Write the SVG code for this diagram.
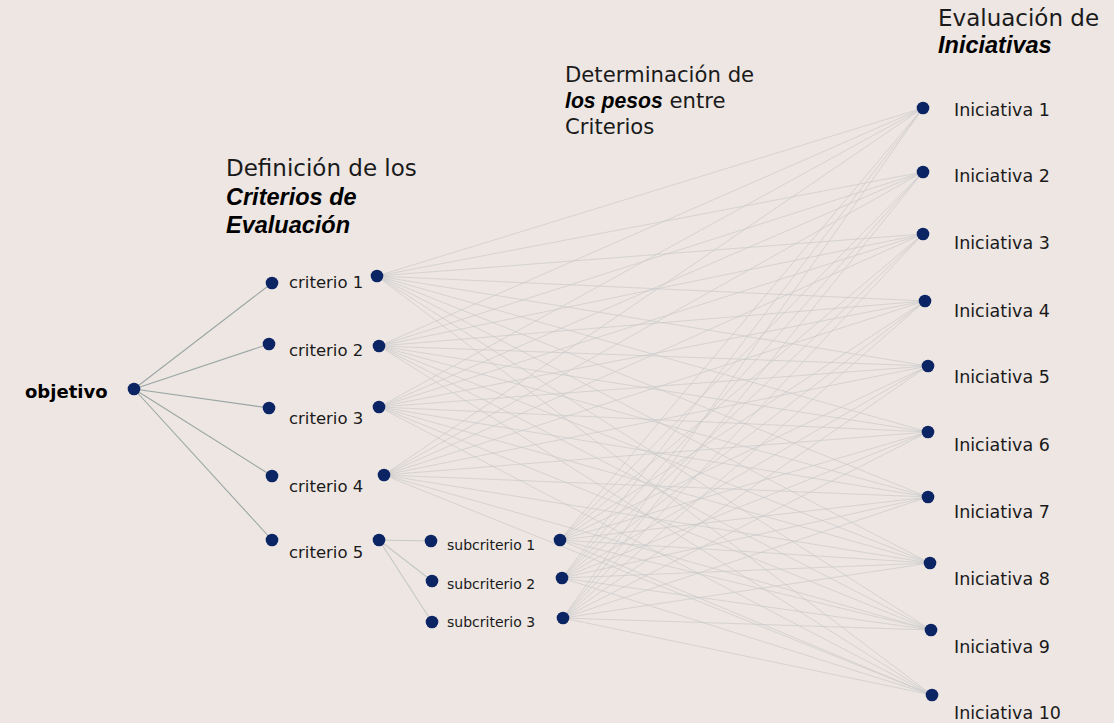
<svg xmlns="http://www.w3.org/2000/svg" width="1114" height="723" viewBox="0 0 1114 723">
<style>
.bg{fill:#ede6e3}
.dot{fill:#0b2463}
.t{font-family:"DejaVu Sans",sans-serif;fill:#1a1a1a}
.crit{font-size:16.5px}
.sub{font-size:14px}
.ini{font-size:17.5px}
.hd{font-family:"DejaVu Sans",sans-serif;fill:#1a1a1a}
.em{font-family:"Liberation Sans",Arial,sans-serif;font-weight:bold;font-style:italic;fill:#000}
.obj{font-family:"DejaVu Sans",sans-serif;font-weight:bold;font-size:18px;fill:#000}
.lo{stroke:#9aa6a4;stroke-width:1.1;fill:none}
.ls{stroke:#c4c8c7;stroke-width:1.1;fill:none}
.lm{stroke:#c9c9c9;stroke-width:0.9;stroke-opacity:0.75;fill:none}
</style>
<rect class="bg" x="0" y="0" width="1114" height="723"/>

<g id="connectors">
  <g id="objetivo-links">
    <line class="lo" x1="134" y1="389" x2="272" y2="283"/>
    <line class="lo" x1="134" y1="389" x2="269" y2="344"/>
    <line class="lo" x1="134" y1="389" x2="269" y2="408"/>
    <line class="lo" x1="134" y1="389" x2="272" y2="476"/>
    <line class="lo" x1="134" y1="389" x2="272" y2="540"/>
  </g>
  <g id="sub-links">
    <line class="ls" x1="379" y1="540" x2="431" y2="541"/>
    <line class="ls" x1="379" y1="540" x2="432" y2="581"/>
    <line class="ls" x1="379" y1="540" x2="432" y2="622"/>
  </g>
  <g id="mesh">
    <line class="lm" x1="377" y1="276" x2="923" y2="108"/>
    <line class="lm" x1="377" y1="276" x2="923" y2="172"/>
    <line class="lm" x1="377" y1="276" x2="923" y2="234"/>
    <line class="lm" x1="377" y1="276" x2="925" y2="301"/>
    <line class="lm" x1="377" y1="276" x2="928" y2="366"/>
    <line class="lm" x1="377" y1="276" x2="928" y2="432"/>
    <line class="lm" x1="377" y1="276" x2="928" y2="497"/>
    <line class="lm" x1="377" y1="276" x2="930" y2="563"/>
    <line class="lm" x1="377" y1="276" x2="931" y2="630"/>
    <line class="lm" x1="377" y1="276" x2="932" y2="695"/>

    <line class="lm" x1="379" y1="346" x2="923" y2="108"/>
    <line class="lm" x1="379" y1="346" x2="923" y2="172"/>
    <line class="lm" x1="379" y1="346" x2="923" y2="234"/>
    <line class="lm" x1="379" y1="346" x2="925" y2="301"/>
    <line class="lm" x1="379" y1="346" x2="928" y2="366"/>
    <line class="lm" x1="379" y1="346" x2="928" y2="432"/>
    <line class="lm" x1="379" y1="346" x2="928" y2="497"/>
    <line class="lm" x1="379" y1="346" x2="930" y2="563"/>
    <line class="lm" x1="379" y1="346" x2="931" y2="630"/>
    <line class="lm" x1="379" y1="346" x2="932" y2="695"/>

    <line class="lm" x1="379" y1="407" x2="923" y2="108"/>
    <line class="lm" x1="379" y1="407" x2="923" y2="172"/>
    <line class="lm" x1="379" y1="407" x2="923" y2="234"/>
    <line class="lm" x1="379" y1="407" x2="925" y2="301"/>
    <line class="lm" x1="379" y1="407" x2="928" y2="366"/>
    <line class="lm" x1="379" y1="407" x2="928" y2="432"/>
    <line class="lm" x1="379" y1="407" x2="928" y2="497"/>
    <line class="lm" x1="379" y1="407" x2="930" y2="563"/>
    <line class="lm" x1="379" y1="407" x2="931" y2="630"/>
    <line class="lm" x1="379" y1="407" x2="932" y2="695"/>

    <line class="lm" x1="384" y1="475" x2="923" y2="108"/>
    <line class="lm" x1="384" y1="475" x2="923" y2="172"/>
    <line class="lm" x1="384" y1="475" x2="923" y2="234"/>
    <line class="lm" x1="384" y1="475" x2="925" y2="301"/>
    <line class="lm" x1="384" y1="475" x2="928" y2="366"/>
    <line class="lm" x1="384" y1="475" x2="928" y2="432"/>
    <line class="lm" x1="384" y1="475" x2="928" y2="497"/>
    <line class="lm" x1="384" y1="475" x2="930" y2="563"/>
    <line class="lm" x1="384" y1="475" x2="931" y2="630"/>
    <line class="lm" x1="384" y1="475" x2="932" y2="695"/>

    <line class="lm" x1="560" y1="540" x2="923" y2="108"/>
    <line class="lm" x1="560" y1="540" x2="923" y2="172"/>
    <line class="lm" x1="560" y1="540" x2="923" y2="234"/>
    <line class="lm" x1="560" y1="540" x2="925" y2="301"/>
    <line class="lm" x1="560" y1="540" x2="928" y2="366"/>
    <line class="lm" x1="560" y1="540" x2="928" y2="432"/>
    <line class="lm" x1="560" y1="540" x2="928" y2="497"/>
    <line class="lm" x1="560" y1="540" x2="930" y2="563"/>
    <line class="lm" x1="560" y1="540" x2="931" y2="630"/>
    <line class="lm" x1="560" y1="540" x2="932" y2="695"/>

    <line class="lm" x1="562" y1="578" x2="923" y2="108"/>
    <line class="lm" x1="562" y1="578" x2="923" y2="172"/>
    <line class="lm" x1="562" y1="578" x2="923" y2="234"/>
    <line class="lm" x1="562" y1="578" x2="925" y2="301"/>
    <line class="lm" x1="562" y1="578" x2="928" y2="366"/>
    <line class="lm" x1="562" y1="578" x2="928" y2="432"/>
    <line class="lm" x1="562" y1="578" x2="928" y2="497"/>
    <line class="lm" x1="562" y1="578" x2="930" y2="563"/>
    <line class="lm" x1="562" y1="578" x2="931" y2="630"/>
    <line class="lm" x1="562" y1="578" x2="932" y2="695"/>

    <line class="lm" x1="563" y1="618" x2="923" y2="108"/>
    <line class="lm" x1="563" y1="618" x2="923" y2="172"/>
    <line class="lm" x1="563" y1="618" x2="923" y2="234"/>
    <line class="lm" x1="563" y1="618" x2="925" y2="301"/>
    <line class="lm" x1="563" y1="618" x2="928" y2="366"/>
    <line class="lm" x1="563" y1="618" x2="928" y2="432"/>
    <line class="lm" x1="563" y1="618" x2="928" y2="497"/>
    <line class="lm" x1="563" y1="618" x2="930" y2="563"/>
    <line class="lm" x1="563" y1="618" x2="931" y2="630"/>
    <line class="lm" x1="563" y1="618" x2="932" y2="695"/>
  </g>
</g>

<g id="headers">
  <g id="header-criterios">
    <text class="hd" x="226" y="176" font-size="23">Definición de los</text>
    <text class="em" x="226" y="205" font-size="23.5">Criterios de</text>
    <text class="em" x="226" y="233" font-size="23.5">Evaluación</text>
  </g>
  <g id="header-pesos">
    <text class="hd" x="565" y="82" font-size="21.2">Determinación de</text>
    <text x="565" y="108" font-size="21.2"><tspan class="em">los pesos</tspan><tspan class="hd"> entre</tspan></text>
    <text class="hd" x="565" y="134" font-size="21.2">Criterios</text>
  </g>
  <g id="header-iniciativas">
    <text class="hd" x="938" y="26" font-size="23">Evaluación de</text>
    <text class="em" x="938" y="53" font-size="23.5">Iniciativas</text>
  </g>
</g>

<g id="objetivo">
  <circle class="dot" cx="134" cy="389" r="6.3"/>
  <text class="obj" x="25" y="398">objetivo</text>
</g>

<g id="criterio1">
  <circle class="dot" cx="272" cy="283" r="6.3"/>
  <text class="t crit" x="289" y="288">criterio 1</text>
  <circle class="dot" cx="377" cy="276" r="6.3"/>
</g>
<g id="criterio2">
  <circle class="dot" cx="269" cy="344" r="6.3"/>
  <text class="t crit" x="289" y="356">criterio 2</text>
  <circle class="dot" cx="379" cy="346" r="6.3"/>
</g>
<g id="criterio3">
  <circle class="dot" cx="269" cy="408" r="6.3"/>
  <text class="t crit" x="289" y="424">criterio 3</text>
  <circle class="dot" cx="379" cy="407" r="6.3"/>
</g>
<g id="criterio4">
  <circle class="dot" cx="272" cy="476" r="6.3"/>
  <text class="t crit" x="289" y="492">criterio 4</text>
  <circle class="dot" cx="384" cy="475" r="6.3"/>
</g>
<g id="criterio5">
  <circle class="dot" cx="272" cy="540" r="6.3"/>
  <text class="t crit" x="289" y="558">criterio 5</text>
  <circle class="dot" cx="379" cy="540" r="6.3"/>
</g>

<g id="subcriterio1">
  <circle class="dot" cx="431" cy="541" r="6.3"/>
  <text class="t sub" x="447" y="550">subcriterio 1</text>
  <circle class="dot" cx="560" cy="540" r="6.3"/>
</g>
<g id="subcriterio2">
  <circle class="dot" cx="432" cy="581" r="6.3"/>
  <text class="t sub" x="447" y="589">subcriterio 2</text>
  <circle class="dot" cx="562" cy="578" r="6.3"/>
</g>
<g id="subcriterio3">
  <circle class="dot" cx="432" cy="622" r="6.3"/>
  <text class="t sub" x="447" y="627">subcriterio 3</text>
  <circle class="dot" cx="563" cy="618" r="6.3"/>
</g>

<g id="iniciativa1"><circle class="dot" cx="923" cy="108" r="6.3"/><text class="t ini" x="954" y="116">Iniciativa 1</text></g>
<g id="iniciativa2"><circle class="dot" cx="923" cy="172" r="6.3"/><text class="t ini" x="954" y="182">Iniciativa 2</text></g>
<g id="iniciativa3"><circle class="dot" cx="923" cy="234" r="6.3"/><text class="t ini" x="954" y="249">Iniciativa 3</text></g>
<g id="iniciativa4"><circle class="dot" cx="925" cy="301" r="6.3"/><text class="t ini" x="954" y="317">Iniciativa 4</text></g>
<g id="iniciativa5"><circle class="dot" cx="928" cy="366" r="6.3"/><text class="t ini" x="954" y="383">Iniciativa 5</text></g>
<g id="iniciativa6"><circle class="dot" cx="928" cy="432" r="6.3"/><text class="t ini" x="954" y="451">Iniciativa 6</text></g>
<g id="iniciativa7"><circle class="dot" cx="928" cy="497" r="6.3"/><text class="t ini" x="954" y="518">Iniciativa 7</text></g>
<g id="iniciativa8"><circle class="dot" cx="930" cy="563" r="6.3"/><text class="t ini" x="954" y="585">Iniciativa 8</text></g>
<g id="iniciativa9"><circle class="dot" cx="931" cy="630" r="6.3"/><text class="t ini" x="954" y="653">Iniciativa 9</text></g>
<g id="iniciativa10"><circle class="dot" cx="932" cy="695" r="6.3"/><text class="t ini" x="954" y="719">Iniciativa 10</text></g>
</svg>
